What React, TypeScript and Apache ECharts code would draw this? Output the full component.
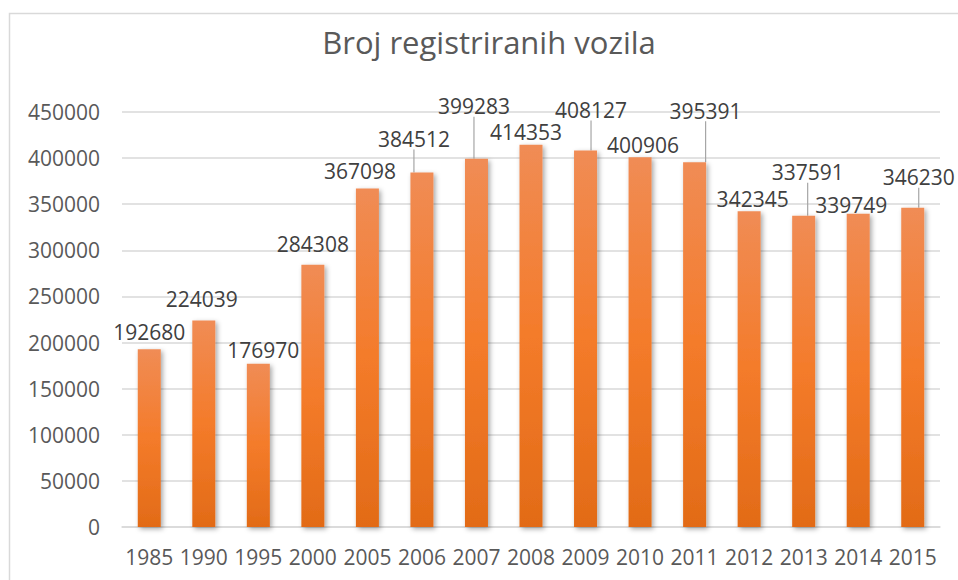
import React, { useEffect, useRef } from "react";
import * as echarts from "echarts";

const years = ["1985", "1990", "1995", "2000", "2005", "2006", "2007", "2008", "2009", "2010", "2011", "2012", "2013", "2014", "2015"];
const vehicles = [192680, 224039, 176970, 284308, 367098, 384512, 399283, 414353, 408127, 400906, 395391, 342345, 337591, 339749, 346230];
const yTicks = { min: 0, max: 450000, interval: 50000 };

// label offsets (manually moved labels in the original)
const labelDx = [0, -2, 5, 0, -7.5, -8, -2.5, -5, 5.5, 3, 11, 3.5, 4, -7, 6];
const labelDy = [-5, -9, -1, -8, -4.5, -21, -40, 0, -28, 0, -39, 0, -31, 4, -18];
const leaderLines = [5, 6, 8, 10, 12, 14];

const FONT = "'Open Sans', 'Liberation Sans', sans-serif";

export default function App() {
  const ref = useRef<HTMLDivElement>(null);
  useEffect(() => {
    if (!ref.current) return;
    const chart = echarts.init(ref.current, null, { renderer: "svg" });
    const barColor = new echarts.graphic.LinearGradient(0, 0, 0, 1, [
      { offset: 0, color: "#F08C55" },
      { offset: 0.5, color: "#F47B2A" },
      { offset: 1, color: "#E26B17" },
    ]);
    chart.setOption({
      animation: false,
      backgroundColor: "#ffffff",
      title: {
        text: "Broj registriranih vozila",
        left: 484,
        top: 21,
        textAlign: "center",
        textStyle: { fontFamily: FONT, fontSize: 31, fontWeight: "normal", color: "#595959" },
      },
      graphic: [
        {
          type: "rect",
          shape: { x: 9.5, y: 13.5, width: 1000, height: 700 },
          style: { fill: "none", stroke: "#D9D9D9", lineWidth: 1.5 },
          silent: true,
          z: -10,
        },
      ],
      grid: { left: 122, right: 18, top: 112, bottom: 53 },
      xAxis: {
        type: "category",
        data: years,
        axisLine: { show: true, lineStyle: { color: "#D9D9D9", width: 1.5 } },
        axisTick: { show: false },
        axisLabel: { interval: 0, fontFamily: FONT, fontSize: 21, color: "#595959", margin: 19 },
      },
      yAxis: {
        type: "value",
        min: yTicks.min,
        max: yTicks.max,
        interval: yTicks.interval,
        axisLine: { show: false },
        axisTick: { show: false },
        splitLine: { lineStyle: { color: "#D9D9D9", width: 1.5 } },
        axisLabel: {
          fontFamily: FONT,
          fontSize: 21,
          color: "#595959",
          margin: 22,
          formatter: (v: number) => String(v),
        },
      },
      series: [
        {
          type: "bar",
          barWidth: 23,
          data: vehicles.map((v, i) => ({
            value: v,
            labelLine: { show: leaderLines.includes(i) },
          })),
          itemStyle: {
            color: barColor,
            shadowBlur: 5,
            shadowOffsetX: 2,
            shadowOffsetY: 2,
            shadowColor: "rgba(0,0,0,0.35)",
          },
          label: {
            show: true,
            position: "top",
            distance: 2,
            fontFamily: FONT,
            fontSize: 21,
            color: "#404040",
          },
          labelLine: { show: false, lineStyle: { color: "#A6A6A6", width: 1.2 } },
          labelLayout: (params: any) => ({
            dx: labelDx[params.dataIndex],
            dy: labelDy[params.dataIndex],
          }),
        },
      ],
    });
    return () => chart.dispose();
  }, []);
  return (
    <div
      ref={ref}
      style={{ position: "fixed", left: 0, top: 0, width: 958, height: 580, background: "#fff" }}
    />
  );
}
